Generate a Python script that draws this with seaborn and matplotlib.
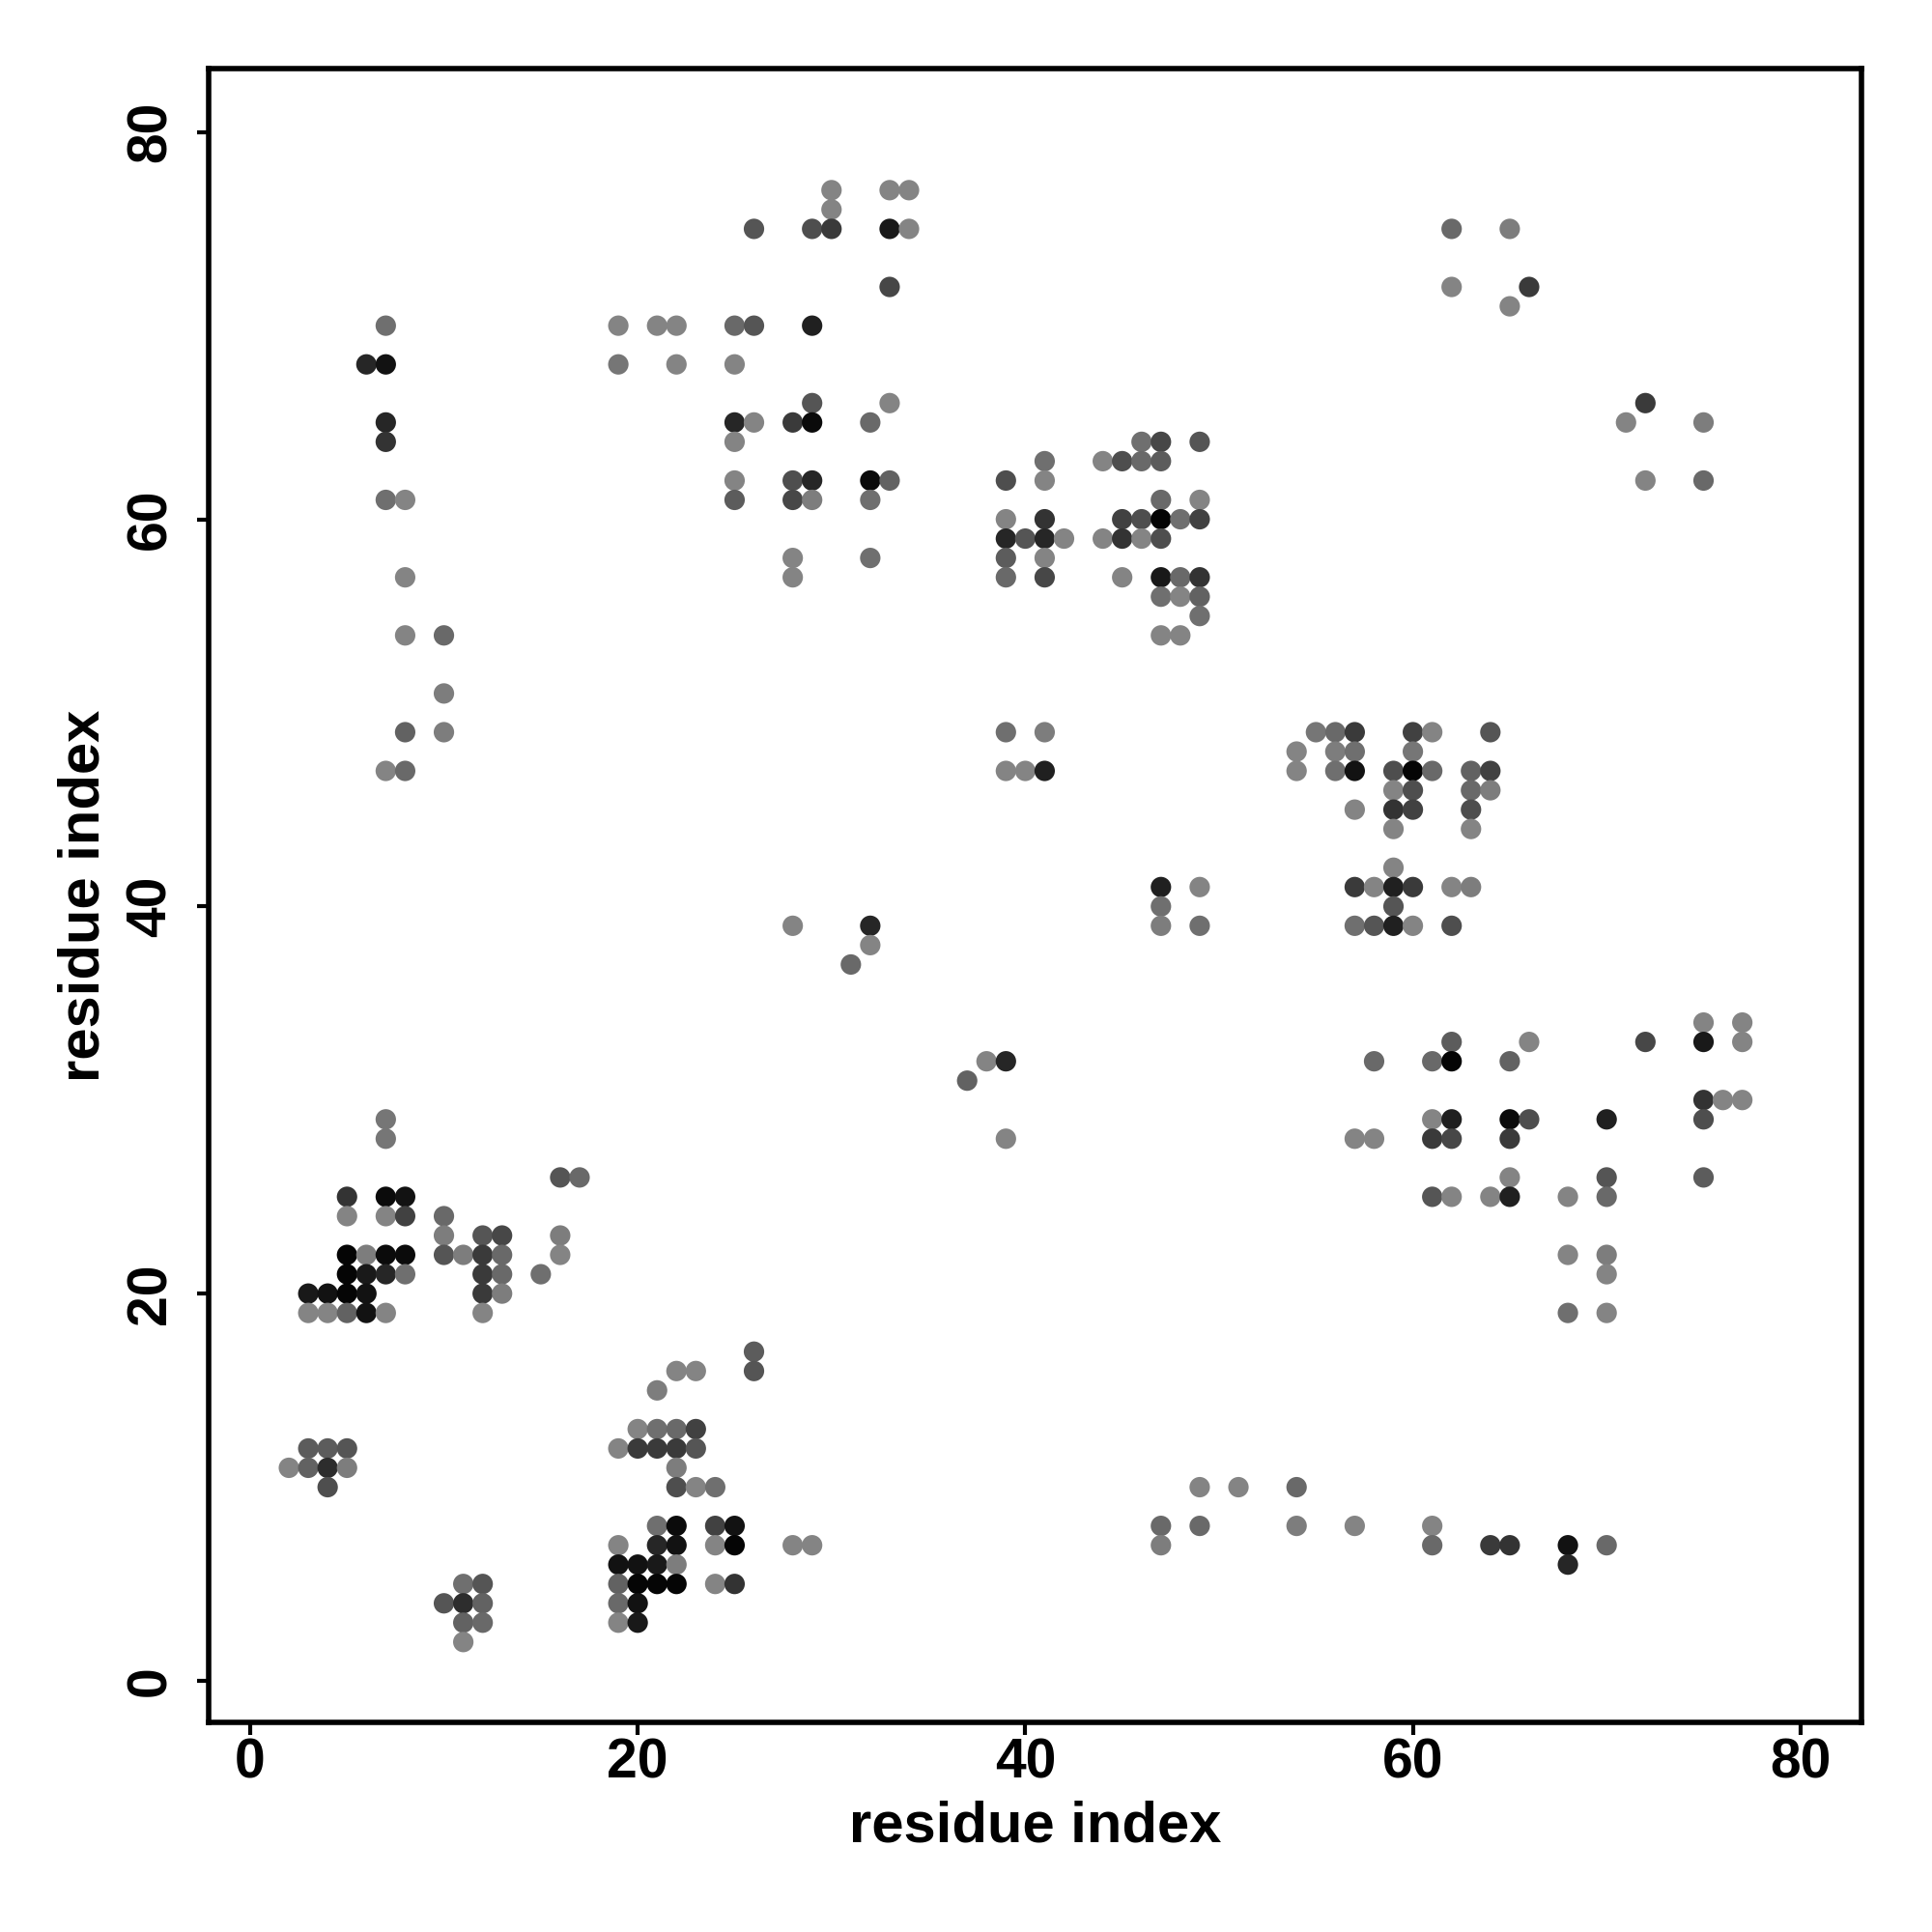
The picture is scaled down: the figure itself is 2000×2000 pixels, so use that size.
import numpy as np
import pandas as pd
import seaborn as sns
import matplotlib.pyplot as plt
from matplotlib.colors import LinearSegmentedColormap

sns.set_theme(style="ticks")
plt.rcParams['font.family'] = ['Liberation Sans', 'DejaVu Sans']
plt.rcParams['font.weight'] = 'bold'
plt.rcParams['text.color'] = 'black'
plt.rcParams['axes.labelcolor'] = 'black'
plt.rcParams['xtick.color'] = 'black'
plt.rcParams['ytick.color'] = 'black'

# contact map: one entry per row of the map (residue j), listing residues i and contact score
row_j = [77, 76, 75, 72, 71, 70, 68, 66, 65, 64, 63, 62, 61, 60, 59, 58, 57, 56, 55, 54,
         51, 49, 48, 47, 46, 45, 44, 42, 41, 40, 39, 38, 37, 34, 33, 32, 31, 30, 29, 28,
         26, 25, 24, 23, 22, 21, 20, 19, 17, 16, 15, 13, 12, 11, 10, 8, 7, 6, 5, 4, 3, 2]

row_i = [
    [30, 33, 34],
    [30],
    [26, 29, 30, 33, 34, 62, 65],
    [33, 62, 66],
    [65],
    [7, 19, 21, 22, 25, 26, 29],
    [6, 7, 19, 22, 25],
    [29, 33, 72],
    [7, 25, 26, 28, 29, 32, 71, 75],
    [7, 25, 46, 47, 49],
    [41, 44, 45, 46, 47],
    [25, 28, 29, 32, 33, 39, 41, 72, 75],
    [7, 8, 25, 28, 29, 32, 47, 49],
    [39, 41, 45, 46, 47, 48, 49],
    [39, 40, 41, 42, 44, 45, 46, 47],
    [28, 32, 39, 41],
    [8, 28, 39, 41, 45, 47, 48, 49],
    [47, 48, 49],
    [49],
    [8, 10, 47, 48],
    [10],
    [8, 10, 39, 41, 55, 56, 57, 60, 61, 64],
    [54, 56, 57, 60],
    [7, 8, 39, 40, 41, 54, 56, 57, 59, 60, 61, 63, 64],
    [59, 60, 63, 64],
    [57, 59, 60, 63],
    [59, 63],
    [59],
    [47, 49, 57, 58, 59, 60, 62, 63],
    [47, 59],
    [28, 32, 47, 49, 57, 58, 59, 60, 62],
    [32],
    [31],
    [75, 77],
    [62, 66, 72, 75, 77],
    [38, 39, 58, 61, 62, 65],
    [37],
    [75, 76, 77],
    [7, 61, 62, 65, 66, 70, 75],
    [7, 39, 57, 58, 61, 62, 65],
    [16, 17, 65, 70, 75],
    [5, 7, 8, 61, 62, 64, 65, 68, 70],
    [5, 7, 8, 10],
    [10, 12, 13, 16],
    [5, 6, 7, 8, 10, 11, 12, 13, 16, 68, 70],
    [5, 6, 7, 8, 12, 13, 15, 70],
    [3, 4, 5, 6, 12, 13],
    [3, 4, 5, 6, 7, 12, 68, 70],
    [26],
    [22, 23, 26],
    [21],
    [20, 21, 22, 23],
    [3, 4, 5, 19, 20, 21, 22, 23],
    [2, 3, 4, 5, 22],
    [4, 22, 23, 24, 49, 51, 54],
    [21, 22, 24, 25, 47, 49, 54, 57, 61],
    [19, 21, 22, 24, 25, 28, 29, 47, 61, 64, 65, 68, 70],
    [19, 20, 21, 22, 68],
    [11, 12, 19, 20, 21, 22, 24, 25],
    [10, 11, 12, 19, 20],
    [11, 12, 19, 20],
    [11],
]

row_score = [
    [.05, .05, .05],
    [.05],
    [.4, .45, .6, .85, .05, .25, .1],
    [.5, .05, .6],
    [.05],
    [.2, .05, .05, .05, .25, .4, .8],
    [.75, .9, .15, .05, .05],
    [.4, .05, .6],
    [.75, .75, .05, .6, .95, .25, .05, .1],
    [.65, .05, .2, .5, .4],
    [.2, .05, .45, .25, .35],
    [.05, .45, .75, .95, .3, .45, .05, .05, .25],
    [.2, .05, .35, .5, .1, .2, .25, .05],
    [.05, .65, .55, .45, 1.0, .2, .55],
    [.75, .4, .75, .05, .05, .65, .05, .45],
    [.05, .2, .35, .05],
    [.05, .05, .25, .5, .05, .85, .25, .65],
    [.2, .05, .3],
    [.2],
    [.05, .25, .05, .05],
    [.1],
    [.3, .1, .2, .1, .15, .25, .6, .55, .05, .4],
    [.05, .1, .2, .15],
    [.05, .25, .05, .05, .8, .05, .2, .9, .45, 1.0, .25, .3, .55],
    [.05, .45, .25, .1],
    [.05, .65, .55, .45],
    [.05, .05],
    [.05],
    [.8, .05, .6, .05, .8, .6, .05, .1],
    [.2, .4],
    [.05, .75, .1, .2, .2, .4, .8, .05, .45],
    [.05],
    [.25],
    [.05, .05],
    [.35, .05, .5, .85, .05],
    [.05, .75, .25, .25, 1.0, .3],
    [.3],
    [.65, .05, .05],
    [.15, .05, .8, .95, .45, .8, .45],
    [.15, .05, .05, .05, .6, .5, .6],
    [.4, .25, .05, .4, .35],
    [.65, .95, .9, .4, .05, .05, .8, .05, .25],
    [.05, .05, .55, .25],
    [.1, .4, .5, .1],
    [1.0, .1, .95, .95, .4, .1, .6, .25, .05, .05, .1],
    [1.0, .85, .75, .2, .6, .25, .2, .05],
    [.85, .9, 1.0, .9, .6, .1],
    [.05, .05, .3, .9, .05, .05, .2, .05],
    [.35],
    [.05, .05, .4],
    [.1],
    [.05, .2, .25, .55],
    [.35, .35, .4, .05, .6, .6, .6, .4],
    [.05, .3, .7, .1, .1],
    [.45, .45, .05, .2, .05, .05, .25],
    [.2, .95, .55, .9, .25, .25, .1, .05, .05],
    [.05, .75, .9, .05, 1.0, .05, .05, .1, .25, .6, .65, .9, .25],
    [.9, .9, .85, .1, .75],
    [.2, .4, .3, 1.0, 1.0, 1.0, .05, .65],
    [.4, .7, .3, .25, .9],
    [.3, .25, .05, .85],
    [.05],
]

ticks = [0, 20, 40, 60, 80]

records = []
for j, xs, ss in zip(row_j, row_i, row_score):
    for i, s in zip(xs, ss):
        records.append((i, j, s))
df = pd.DataFrame(records, columns=['i', 'j', 'score'])

grays = LinearSegmentedColormap.from_list('grays', ['#8a8a8a', '#050505'])

fig = plt.figure(figsize=(10, 10), dpi=200)
ax = fig.add_axes([0.1078, 0.1085, 0.8557, 0.8558])
sns.scatterplot(data=df, x='i', y='j', hue='score', palette=grays, hue_norm=(0, 1),
                s=58, linewidth=0, legend=False, ax=ax)

ax.set_xlim(-2.16, 83.15)
ax.set_ylim(-2.15, 83.26)
ax.set_xticks(ticks)
ax.set_yticks(ticks)
ax.tick_params(axis='both', labelsize=20.5, width=1.5, length=4.5, color='black',
               labelcolor='black')
ax.tick_params(axis='x', pad=1)
ax.tick_params(axis='y', pad=7)
for lab in ax.get_yticklabels():
    lab.set_rotation(90)
    lab.set_va('center')
for lab in ax.get_xticklabels() + ax.get_yticklabels():
    lab.set_fontweight('bold')
for sp in ax.spines.values():
    sp.set_visible(True)
    sp.set_linewidth(2.0)
    sp.set_color('black')

ax.set_xlabel('residue index', fontsize=21.5, fontweight='bold', color='black')
ax.set_ylabel('residue index', fontsize=21.5, fontweight='bold', color='black')
ax.xaxis.set_label_coords(0.5, -0.047)
ax.yaxis.set_label_coords(-0.059, 0.5)

fig.savefig('out.png', dpi=200, facecolor='white')
